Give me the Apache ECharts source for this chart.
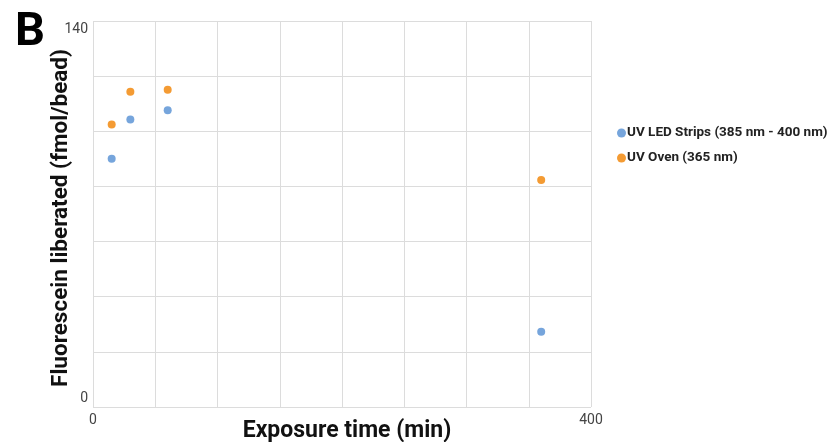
<!DOCTYPE html>
<html><head><meta charset="utf-8">
<script src="https://cdn.jsdelivr.net/npm/echarts@6/dist/echarts.min.js"></script>
<style>html,body{margin:0;padding:0;background:#fff}#c{width:832px;height:442px}</style>
</head><body><div id="c"></div>
<script>
const seriesNames = ['UV LED Strips (385 nm - 400 nm)', 'UV Oven (365 nm)'];
const ledTimes = [15, 30, 60, 360];
const ledValues = [90, 104.3, 107.6, 27.3];
const ovenTimes = [15, 30, 60, 360];
const ovenValues = [102.5, 114.3, 115.1, 82.3];
const xTickLabels = [0, 400];
const yTickLabels = [0, 140];

const chart = echarts.init(document.getElementById('c'));
const font = 'Roboto';
chart.setOption({
  backgroundColor: '#fff',
  title: { text: 'B', left: 10, top: 5, textStyle: { fontFamily: font, fontSize: 47, fontWeight: 'bold', color: '#000' } },
  grid: { left: 93, right: 241, top: 21, bottom: 35, outerBoundsMode: 'none', containLabel: false },
  legend: {
    orient: 'vertical', left: 612, top: 121, itemGap: 11,
    itemWidth: 9, itemHeight: 9, icon: 'circle',
    textStyle: { fontFamily: font, fontSize: 13.5, fontWeight: 'bold', color: '#222', padding: [0, 0, 0, -4] },
    data: seriesNames
  },
  xAxis: {
    type: 'value', min: 0, max: 400, interval: 50,
    name: 'Exposure time (min)', nameLocation: 'middle', nameGap: 13, nameMoveOverlap: false,
    nameTextStyle: { fontFamily: font, fontSize: 23, fontWeight: 'bold', color: '#111', verticalAlign: 'top', padding: [0, 0, 0, 10] },
    axisLine: { show: false }, axisTick: { show: false },
    splitLine: { show: true, lineStyle: { color: '#dcdcdc', width: 1 } },
    axisLabel: {
      fontFamily: font, fontSize: 14, color: '#444', margin: 6,
      formatter: v => xTickLabels.includes(v) ? String(v) : ''
    }
  },
  yAxis: {
    type: 'value', min: 0, max: 140, interval: 20,
    name: 'Fluorescein liberated (fmol/bead)', nameLocation: 'middle', nameGap: 20, nameMoveOverlap: false,
    nameTextStyle: { fontFamily: font, fontSize: 22.5, fontWeight: 'bold', color: '#111', padding: [0, 8, 0, 0] },
    axisLine: { show: false }, axisTick: { show: false },
    splitLine: { show: true, lineStyle: { color: '#dcdcdc', width: 1 } },
    axisLabel: {
      fontFamily: font, fontSize: 14, color: '#444', margin: 5, lineHeight: 17,
      formatter: v => v === yTickLabels[1] ? '\n' + v : (v === yTickLabels[0] ? v + '\n' : '')
    }
  },
  series: [
    { name: seriesNames[0], type: 'scatter', symbolSize: 8, itemStyle: { color: '#76a5dc', opacity: 1 },
      data: ledTimes.map((t, i) => [t, ledValues[i]]) },
    { name: seriesNames[1], type: 'scatter', symbolSize: 8, itemStyle: { color: '#f49b33', opacity: 1 },
      data: ovenTimes.map((t, i) => [t, ovenValues[i]]) }
  ]
});
</script></body></html>
